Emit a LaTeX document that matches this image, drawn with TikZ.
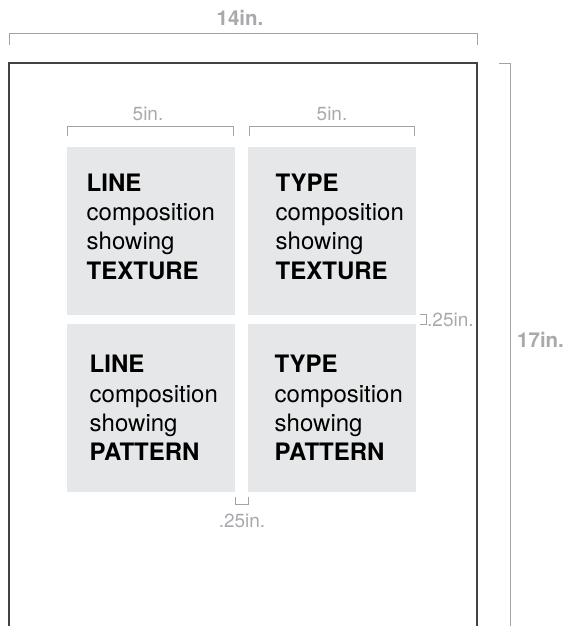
\documentclass[tikz,border=0pt]{standalone}
\usepackage{fontspec}
\setmainfont{TeX Gyre Heros}
\definecolor{boxgray}{HTML}{E6E7E8}
\definecolor{labelgray}{HTML}{A7A9AC}
\definecolor{dimgray}{HTML}{A3A3A3}
\definecolor{pagegray}{HTML}{424242}
\tikzset{
  cell/.style={fill=boxgray, draw=none, minimum width=168pt, minimum height=168pt, inner sep=0, anchor=north west},
  ln/.style={anchor=base west, inner sep=0, font=\fontsize{24}{29}\selectfont, text=black},
  bln/.style={ln, font=\fontsize{24}{29}\selectfont\bfseries},
  dimline/.style={draw=dimgray, line width=0.9pt},
  dimtxt/.style={inner sep=0, text=labelgray, font=\fontsize{19}{22}\selectfont},
  bigdim/.style={inner sep=0, text=labelgray, font=\fontsize{20.5}{24}\selectfont\bfseries},
  page/.style={draw=pagegray, line width=1.8pt}
}
\begin{document}
\begin{tikzpicture}[x=1pt, y=-1pt]
\useasboundingbox (0,0) rectangle (566,626);
% page
\draw[page] (9,627) -- (9,63) -- (477,63) -- (477,627);
% cells
\node[cell] (c11) at (67,147) {};
\node[cell] (c12) at (248,147) {};
\node[cell] (c21) at (67,324) {};
\node[cell] (c22) at (248,324) {};
% texts top-left
\node[bln] (a1) at (86.5,191) {LINE};
\node[ln]  (a2) at (86.5,220.3) {composition};
\node[ln]  (a3) at (86.5,249.6) {showing};
\node[bln] (a4) at (86.5,279) {TEXTURE};
% top-right
\node[bln] (b1) at (275.5,191) {TYPE};
\node[ln]  (b2) at (275.5,220.3) {composition};
\node[ln]  (b3) at (275.5,249.6) {showing};
\node[bln] (b4) at (275.5,279) {TEXTURE};
% bottom-left
\node[bln] (d1) at (89.5,372.7) {LINE};
\node[ln]  (d2) at (89.5,402) {composition};
\node[ln]  (d3) at (89.5,431.3) {showing};
\node[bln] (d4) at (89.5,460.6) {PATTERN};
% bottom-right
\node[bln] (e1) at (274.5,372.7) {TYPE};
\node[ln]  (e2) at (274.5,402) {composition};
\node[ln]  (e3) at (274.5,431.3) {showing};
\node[bln] (e4) at (274.5,460.6) {PATTERN};
% dimension lines
\draw[dimline] (9,45) -- (9,33) -- (477,33) -- (477,45);
\node[bigdim, anchor=base] (w14) at (240,26) {14in.};
\draw[dimline] (67,136) -- (67,126.5) -- (233,126.5) -- (233,136);
\node[dimtxt, anchor=base] (w5a) at (148,120) {5in.};
\draw[dimline] (249,136) -- (249,126.5) -- (414,126.5) -- (414,136);
\node[dimtxt, anchor=base] (w5b) at (332,120) {5in.};
\draw[dimline] (420,314.5) -- (426,314.5) -- (426,324.5) -- (420,324.5);
\node[dimtxt, anchor=base west] (g1) at (427,326) {.25in.};
\draw[dimline] (235,497) -- (235,504) -- (248,504) -- (248,497);
\node[dimtxt, anchor=base] (g2) at (242,527) {.25in.};
\draw[dimline] (499,63) -- (510,63) -- (510,627);
\node[bigdim, anchor=base west] (h17) at (517,347) {17in.};
\end{tikzpicture}
\end{document}
